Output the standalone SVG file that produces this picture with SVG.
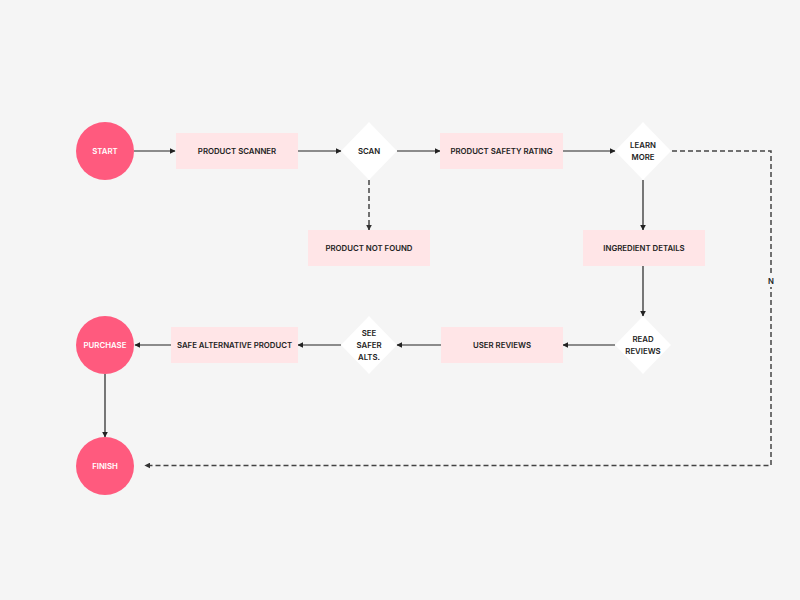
<svg xmlns="http://www.w3.org/2000/svg" width="800" height="600" viewBox="0 0 800 600">
<defs>
<marker id="ah" viewBox="0 0 10 10" refX="9" refY="5" markerWidth="6" markerHeight="6" markerUnits="userSpaceOnUse" orient="auto">
<path d="M0,0 L10,5 L0,10 z" fill="#222"/>
</marker>
<marker id="ahg" viewBox="0 0 10 10" refX="9" refY="5" markerWidth="6" markerHeight="6" markerUnits="userSpaceOnUse" orient="auto">
<path d="M0,0 L10,5 L0,10 z" fill="#333"/>
</marker>
</defs>
<style>
.term{fill:#ff5a7e}
.box{fill:#ffe5e7}
.dia{fill:#ffffff}
.t{font-family:Inter,"Liberation Sans",sans-serif;font-size:7.8px;font-weight:600;fill:#222;text-anchor:middle;dominant-baseline:central}
.tw{font-family:Inter,"Liberation Sans",sans-serif;font-size:7.8px;font-weight:600;fill:#fff;text-anchor:middle;dominant-baseline:central}
.ln{stroke:#222;stroke-width:1.2;fill:none;marker-end:url(#ah)}
.dl{stroke:#444;stroke-width:1.5;fill:none;stroke-dasharray:5 3;marker-end:url(#ahg)}
</style>
<rect width="800" height="600" fill="#f5f5f5"/>
<g id="connectors">
<line class="ln" x1="134" y1="151" x2="175" y2="151"/>
<line class="ln" x1="298" y1="151" x2="341" y2="151"/>
<line class="ln" x1="397" y1="151" x2="440" y2="151"/>
<line class="ln" x1="563" y1="151" x2="615" y2="151"/>
<line class="dl" x1="369" y1="180" x2="369" y2="230"/>
<line class="ln" x1="643" y1="180" x2="643" y2="230"/>
<line class="ln" x1="643" y1="266" x2="643" y2="316"/>
<line class="ln" x1="615" y1="345" x2="563" y2="345"/>
<line class="ln" x1="441" y1="345" x2="397" y2="345"/>
<line class="ln" x1="341" y1="345" x2="298" y2="345"/>
<line class="ln" x1="171" y1="345" x2="135" y2="345"/>
<line class="ln" x1="105" y1="374" x2="105" y2="437"/>
<path class="dl" d="M672,151 H771 V465.5 H145"/>
<rect x="765" y="275" width="12" height="12" fill="#f5f5f5"/>
<text class="t" x="771" y="281">N</text>
</g>
<g id="start"><circle class="term" cx="105" cy="151" r="29"/><text class="tw" x="105" y="151">START</text></g>
<g id="product-scanner"><rect class="box" x="176" y="133" width="122" height="36"/><text class="t" x="237" y="151">PRODUCT SCANNER</text></g>
<g id="scan"><polygon class="dia" points="369,122 397,151 369,180 341,151"/><text class="t" x="369" y="151">SCAN</text></g>
<g id="product-safety-rating"><rect class="box" x="440" y="133" width="123" height="36"/><text class="t" x="501.5" y="151">PRODUCT SAFETY RATING</text></g>
<g id="learn-more"><polygon class="dia" points="643,122 671,151 643,180 615,151"/><text class="t" x="643" y="145">LEARN</text><text class="t" x="643" y="157">MORE</text></g>
<g id="product-not-found"><rect class="box" x="308" y="230" width="122" height="36"/><text class="t" x="369" y="248">PRODUCT NOT FOUND</text></g>
<g id="ingredient-details"><rect class="box" x="583" y="230" width="122" height="36"/><text class="t" x="644" y="248">INGREDIENT DETAILS</text></g>
<g id="read-reviews"><polygon class="dia" points="643,316 671,345 643,374 615,345"/><text class="t" x="643" y="339">READ</text><text class="t" x="643" y="351">REVIEWS</text></g>
<g id="user-reviews"><rect class="box" x="441" y="327" width="122" height="36"/><text class="t" x="502" y="345">USER REVIEWS</text></g>
<g id="see-safer-alts"><polygon class="dia" points="369,316 397,345 369,374 341,345"/><text class="t" x="369" y="333">SEE</text><text class="t" x="369" y="345">SAFER</text><text class="t" x="369" y="357">ALTS.</text></g>
<g id="safe-alternative-product"><rect class="box" x="171" y="327" width="127" height="36"/><text class="t" x="234.5" y="345">SAFE ALTERNATIVE PRODUCT</text></g>
<g id="purchase"><circle class="term" cx="105" cy="345" r="29"/><text class="tw" x="105" y="345">PURCHASE</text></g>
<g id="finish"><circle class="term" cx="105" cy="466" r="29"/><text class="tw" x="105" y="466">FINISH</text></g>
</svg>
